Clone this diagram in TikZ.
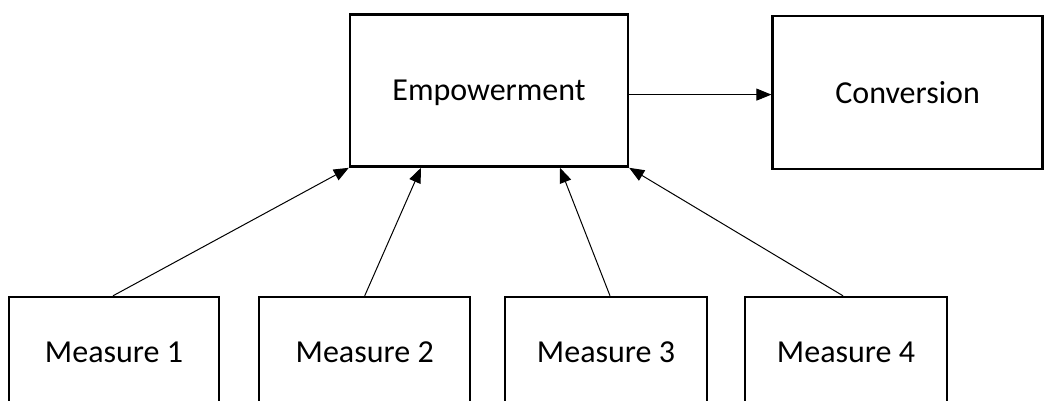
\documentclass[tikz,border=0pt]{standalone}
\usepackage{fontspec}
\setmainfont{Carlito}
\usetikzlibrary{arrows.meta}
\tikzset{
  box/.style={draw=black, line width=2.4pt, fill=white, inner sep=0pt,
    text depth=0pt, font=\fontsize{32}{38}\selectfont, text=black},
  link/.style={draw=black, line width=1pt, -{Triangle[length=15pt,width=12pt]}}
}
\begin{document}
\begin{tikzpicture}[x=1pt,y=-1pt]
  \useasboundingbox (0,0) rectangle (1044,400);
  % upper row
  \node[box, minimum width=278pt, minimum height=152pt] (emp) at (489,90.6) {Empowerment};
  \node[box, minimum width=270pt, minimum height=153pt] (conv) at (907.6,92.5) {Conversion};
  % measures (bottoms run off the page)
  \node[box, minimum width=210pt, minimum height=110pt] (m1) at (114,352) {Measure 1};
  \node[box, minimum width=211pt, minimum height=110pt] (m2) at (364.7,352) {Measure 2};
  \node[box, minimum width=202pt, minimum height=110pt] (m3) at (606,352) {Measure 3};
  \node[box, minimum width=202pt, minimum height=110pt] (m4) at (846,352) {Measure 4};
  % connectors
  \draw[link] ([yshift=-4pt]emp.east) -- ([yshift=-4pt]emp.east -| conv.west);
  \draw[link] ([xshift=-1pt]m1.north) -- (emp.south west);
  \draw[link] (m2.north) -- ([xshift=-68pt]emp.south);
  \draw[link] ([xshift=4pt]m3.north) -- ([xshift=71pt]emp.south);
  \draw[link] ([xshift=-3pt]m4.north) -- (emp.south east);
\end{tikzpicture}
\end{document}
